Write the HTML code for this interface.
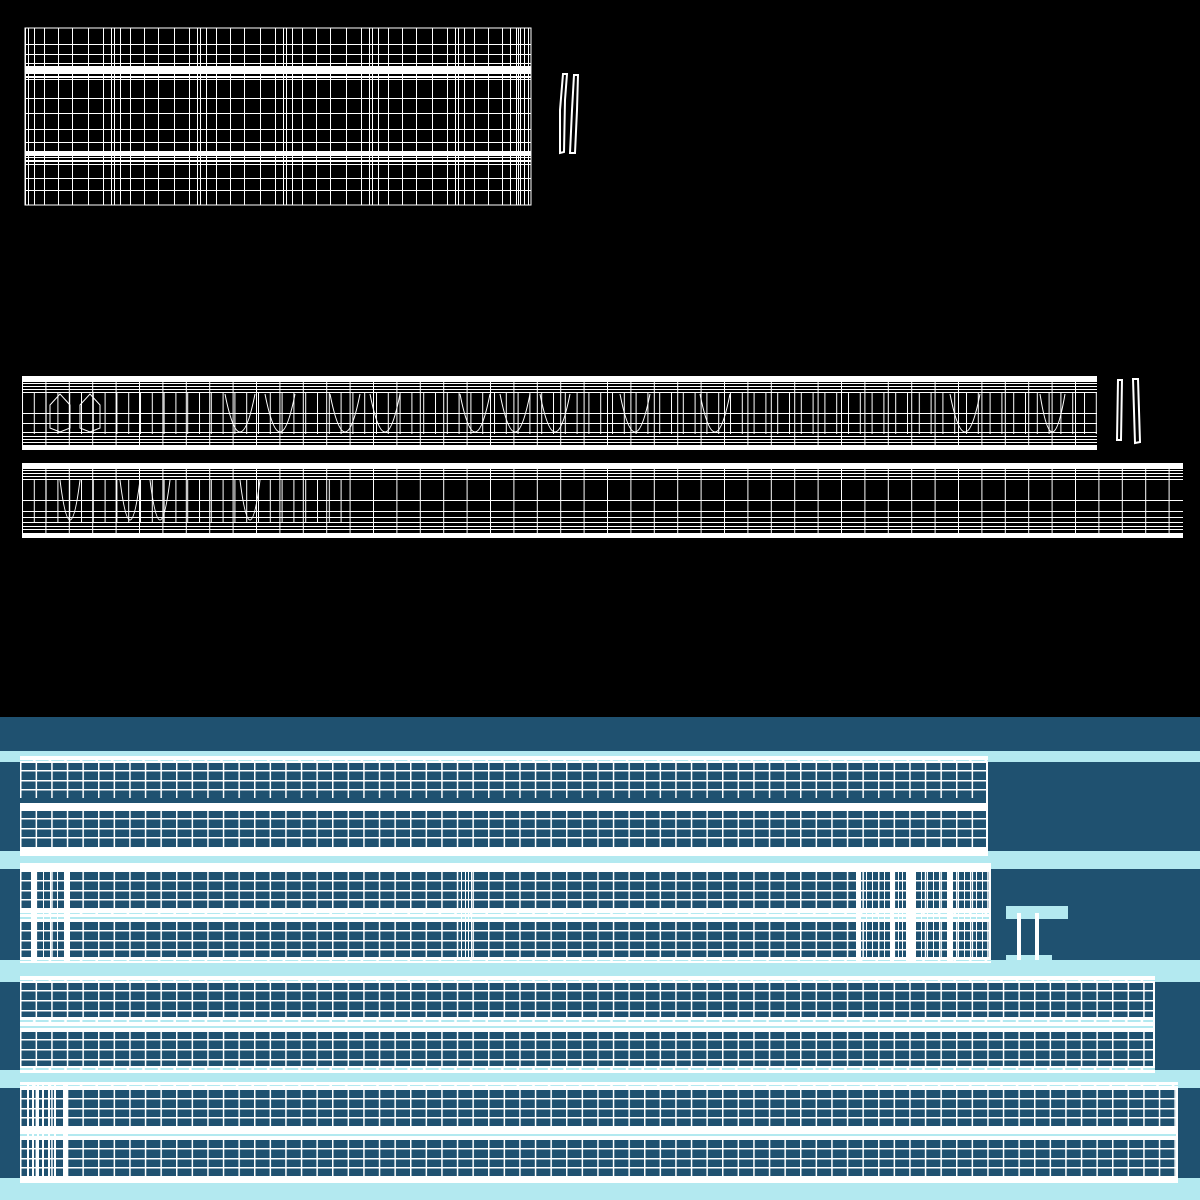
<!DOCTYPE html>
<html><head><meta charset="utf-8"><style>html,body{margin:0;padding:0;background:#000}svg{display:block}</style></head><body>
<svg width="1200" height="1200" viewBox="0 0 1200 1200" xmlns="http://www.w3.org/2000/svg">
<defs>
<pattern id="g15" x="20" y="0" width="15.6" height="10" patternUnits="userSpaceOnUse">
<rect x="0" y="0" width="1.5" height="10" fill="#fff"/>
</pattern>
<pattern id="v12" x="22" y="0" width="11.8" height="10" patternUnits="userSpaceOnUse">
<rect x="0" y="0" width="1" height="10" fill="#fff"/>
</pattern>
<pattern id="v23" x="22" y="0" width="23.4" height="10" patternUnits="userSpaceOnUse">
<rect x="0" y="0" width="1" height="10" fill="#fff"/>
</pattern>
<pattern id="vt" x="25" y="0" width="86" height="10" patternUnits="userSpaceOnUse">
<g fill="#fff">
<rect x="0" width="1" height="10"/><rect x="3" width="1" height="10"/><rect x="9" width="1" height="10"/><rect x="19" width="1" height="10"/><rect x="33" width="1" height="10"/><rect x="47" width="1" height="10"/><rect x="63" width="1" height="10"/><rect x="78" width="1" height="10"/>
</g></pattern>
<pattern id="dash" x="20" y="0" width="15.6" height="4" patternUnits="userSpaceOnUse">
<rect x="0" y="0" width="13" height="2" fill="#b3e9f0"/>
</pattern>
</defs>
<rect width="1200" height="1200" fill="#000"/>

<g>
<rect x="25" y="28" width="506" height="177" fill="url(#vt)"/>
<rect x="25" y="28" width="506" height="177" fill="none" stroke="#fff" stroke-width="1"/>
<g fill="#fff">
<rect x="25" y="44" width="506" height="1"/><rect x="25" y="54" width="506" height="1"/><rect x="25" y="63" width="506" height="1"/>
<rect x="25" y="66" width="506" height="8"/><rect x="25" y="76" width="506" height="2"/><rect x="25" y="79" width="506" height="1"/>
<rect x="25" y="98" width="506" height="1"/><rect x="25" y="113" width="506" height="1"/><rect x="25" y="129" width="506" height="1"/><rect x="25" y="142" width="506" height="1"/>
<rect x="25" y="151" width="506" height="5"/><rect x="25" y="157" width="506" height="1"/><rect x="25" y="160" width="506" height="2"/><rect x="25" y="164" width="506" height="1"/>
<rect x="25" y="178" width="506" height="1"/><rect x="25" y="190" width="506" height="1"/>
<rect x="510" y="28" width="1" height="177"/><rect x="516" y="28" width="1" height="177"/><rect x="520" y="28" width="1" height="177"/><rect x="524" y="28" width="1" height="177"/><rect x="528" y="28" width="1" height="177"/>
</g>
<path d="M563 74 L567 74 L565 100 L564 152 L560 153 L560 110 Z" fill="none" stroke="#fff" stroke-width="2"/>
<path d="M574 75 L578 75 L577 110 L575 153 L570 153 L572 110 Z" fill="none" stroke="#fff" stroke-width="2"/>
</g>

<g>
<rect x="22" y="376" width="1075" height="74" fill="#fff"/>
<rect x="22" y="382" width="1075" height="63" fill="#000"/>
<rect x="22" y="382" width="1075" height="63" fill="url(#v23)"/>
<rect x="22" y="392" width="1075" height="42" fill="url(#v12)"/>
<g fill="#fff">
<rect x="22" y="383" width="1075" height="1"/><rect x="22" y="386" width="1075" height="1"/><rect x="22" y="389" width="1075" height="1"/><rect x="22" y="392" width="1075" height="1"/>
<rect x="22" y="413" width="1075" height="1"/><rect x="22" y="423" width="1075" height="1"/><rect x="22" y="432" width="1075" height="1"/>
<rect x="22" y="436" width="1075" height="1"/><rect x="22" y="439" width="1075" height="1"/><rect x="22" y="442" width="1075" height="1"/>
</g>
<g fill="none" stroke="#fff" stroke-width="1">
<path d="M50 405 L60 394 L70 405 L70 428 L60 432 L50 428 Z"/><path d="M80 405 L90 394 L100 405 L100 428 L90 432 L80 428 Z"/>
<path d="M225 394 Q240 470 255 394"/><path d="M265 394 Q280 470 295 394"/><path d="M330 394 Q345 470 360 394"/><path d="M370 394 Q385 470 400 394"/>
<path d="M460 394 Q475 470 490 394"/><path d="M500 394 Q515 470 530 394"/><path d="M540 394 Q555 470 570 394"/><path d="M620 394 Q635 470 650 394"/>
<path d="M700 394 Q715 470 730 394"/><path d="M950 394 Q965 470 980 394"/><path d="M1040 394 Q1052 470 1065 394"/>
</g>
<path d="M1118 380 L1122 380 L1121 440 L1117 440 Z" fill="none" stroke="#fff" stroke-width="2"/>
<path d="M1133 379 L1138 379 L1140 442 L1135 443 Z" fill="none" stroke="#fff" stroke-width="2"/>
</g>

<g>
<rect x="22" y="463" width="1161" height="75" fill="#fff"/>
<rect x="22" y="469" width="1161" height="64" fill="#000"/>
<rect x="22" y="469" width="1161" height="64" fill="url(#v23)"/>
<rect x="22" y="479" width="330" height="44" fill="url(#v12)"/>
<g fill="#fff">
<rect x="22" y="470" width="1161" height="1"/><rect x="22" y="473" width="1161" height="1"/><rect x="22" y="476" width="1161" height="1"/><rect x="22" y="479" width="1161" height="1"/>
<rect x="22" y="500" width="1161" height="1"/><rect x="22" y="511" width="1161" height="1"/><rect x="22" y="517" width="1161" height="1"/><rect x="22" y="522" width="1161" height="1"/>
<rect x="22" y="526" width="1161" height="1"/><rect x="22" y="529" width="1161" height="1"/>
</g>
<g fill="none" stroke="#fff" stroke-width="1">
<path d="M60 480 Q70 560 80 480"/><path d="M120 480 Q130 560 140 480"/><path d="M150 480 Q160 560 170 480"/><path d="M240 480 Q250 560 260 480"/>
</g>
</g>

<rect x="0" y="717" width="1200" height="483" fill="#1f5170"/>
<g fill="#b3e9f0">
<rect x="0" y="751" width="1200" height="11"/>
<rect x="0" y="851" width="1200" height="18"/>
<rect x="0" y="960" width="1200" height="22"/>
<rect x="0" y="1070" width="1200" height="18"/>
<rect x="0" y="1178" width="1200" height="22"/>
<rect x="1006" y="906" width="62" height="13"/>
<rect x="1006" y="955" width="46" height="6"/>
</g>
<g fill="#fff"><rect x="1017" y="913" width="4" height="47"/><rect x="1035" y="913" width="4" height="47"/></g>

<g>
<rect x="20" y="756" width="968" height="100" fill="#fff"/>
<rect x="20" y="759" width="968" height="2" fill="url(#dash)"/>
<rect x="20" y="763" width="968" height="35" fill="#1f5170"/>
<rect x="20" y="763" width="968" height="35" fill="url(#g15)"/>
<rect x="20" y="798" width="968" height="5" fill="#1f5170"/>
<rect x="20" y="806" width="968" height="2" fill="url(#dash)"/>
<rect x="20" y="811" width="968" height="36" fill="#1f5170"/>
<rect x="20" y="811" width="968" height="36" fill="url(#g15)"/>
<rect x="20" y="850" width="968" height="2" fill="url(#dash)"/>
<g fill="#fff"><rect x="20" y="770" width="968" height="1.5"/><rect x="20" y="780" width="968" height="1.5"/><rect x="20" y="789" width="968" height="1.5"/><rect x="20" y="818" width="968" height="1.5"/><rect x="20" y="828" width="968" height="1.5"/><rect x="20" y="837" width="968" height="1.5"/><rect x="986" y="763" width="2" height="84"/></g>

<rect x="20" y="863" width="971" height="100" fill="#fff"/>
<rect x="20" y="866" width="971" height="2" fill="url(#dash)"/>
<rect x="20" y="872" width="971" height="36" fill="#1f5170"/>
<rect x="20" y="872" width="971" height="36" fill="url(#g15)"/>
<rect x="20" y="913" width="971" height="2" fill="url(#dash)"/>
<rect x="20" y="917" width="971" height="2" fill="#b3e9f0"/>
<rect x="20" y="922" width="971" height="35" fill="#1f5170"/>
<rect x="20" y="922" width="971" height="35" fill="url(#g15)"/>
<rect x="20" y="959" width="971" height="2" fill="url(#dash)"/>
<g fill="#fff">
<rect x="20" y="880" width="971" height="1.5"/><rect x="20" y="890" width="971" height="1.5"/><rect x="20" y="899" width="971" height="1.5"/>
<rect x="20" y="930" width="971" height="1.5"/><rect x="20" y="940" width="971" height="1.5"/><rect x="20" y="949" width="971" height="1.5"/>
<rect x="31" y="863" width="6" height="100"/><rect x="64" y="863" width="6" height="100"/>
<rect x="856" y="863" width="5" height="100"/><rect x="890" y="863" width="4" height="100"/><rect x="906" y="863" width="10" height="100"/><rect x="947" y="863" width="6" height="100"/>
<rect x="43" y="872" width="1" height="85"/><rect x="50" y="872" width="1" height="85"/><rect x="57" y="872" width="1" height="85"/>
<rect x="461" y="872" width="1" height="85"/><rect x="465" y="872" width="1" height="85"/><rect x="468" y="872" width="1" height="85"/><rect x="471" y="872" width="1" height="85"/>
<rect x="866" y="872" width="1" height="85"/><rect x="872" y="872" width="1" height="85"/><rect x="878" y="872" width="1" height="85"/><rect x="884" y="872" width="1" height="85"/>
<rect x="898" y="872" width="1" height="85"/><rect x="902" y="872" width="1" height="85"/><rect x="921" y="872" width="1" height="85"/><rect x="927" y="872" width="1" height="85"/><rect x="933" y="872" width="1" height="85"/><rect x="939" y="872" width="1" height="85"/>
<rect x="958" y="872" width="1" height="85"/><rect x="964" y="872" width="1" height="85"/><rect x="970" y="872" width="1" height="85"/><rect x="976" y="872" width="1" height="85"/><rect x="982" y="872" width="1" height="85"/><rect x="989" y="872" width="2" height="85"/>
</g>

<rect x="20" y="976" width="1135" height="97" fill="#fff"/>
<rect x="20" y="979" width="1135" height="2" fill="url(#dash)"/>
<rect x="20" y="983" width="1135" height="34" fill="#1f5170"/>
<rect x="20" y="983" width="1135" height="34" fill="url(#g15)"/>
<rect x="20" y="1020" width="1135" height="2" fill="url(#dash)"/>
<rect x="20" y="1026" width="1135" height="2" fill="#b3e9f0"/>
<rect x="20" y="1032" width="1135" height="34" fill="#1f5170"/>
<rect x="20" y="1032" width="1135" height="34" fill="url(#g15)"/>
<rect x="20" y="1068" width="1135" height="2" fill="url(#dash)"/>
<g fill="#fff">
<rect x="20" y="990" width="1135" height="1.5"/><rect x="20" y="1000" width="1135" height="1.5"/><rect x="20" y="1010" width="1135" height="1.5"/>
<rect x="20" y="1039" width="1135" height="1.5"/><rect x="20" y="1049" width="1135" height="1.5"/><rect x="20" y="1059" width="1135" height="1.5"/>
<rect x="1153" y="983" width="2" height="83"/>
</g>

<rect x="20" y="1082" width="1158" height="101" fill="#fff"/>
<rect x="20" y="1085" width="1158" height="2" fill="url(#dash)"/>
<rect x="20" y="1090" width="1158" height="36" fill="#1f5170"/>
<rect x="20" y="1090" width="1158" height="36" fill="url(#g15)"/>
<rect x="20" y="1130" width="1158" height="2" fill="url(#dash)"/>
<rect x="20" y="1134" width="1158" height="2" fill="#b3e9f0"/>
<rect x="20" y="1140" width="1158" height="36" fill="#1f5170"/>
<rect x="20" y="1140" width="1158" height="36" fill="url(#g15)"/>
<rect x="20" y="1178" width="1158" height="2" fill="url(#dash)"/>
<g fill="#fff">
<rect x="20" y="1098" width="1158" height="1.5"/><rect x="20" y="1108" width="1158" height="1.5"/><rect x="20" y="1117" width="1158" height="1.5"/>
<rect x="20" y="1148" width="1158" height="1.5"/><rect x="20" y="1158" width="1158" height="1.5"/><rect x="20" y="1167" width="1158" height="1.5"/>
<rect x="1176" y="1090" width="2" height="86"/>
<rect x="27" y="1082" width="2" height="101"/><rect x="32" y="1082" width="2" height="101"/><rect x="37" y="1082" width="2" height="101"/><rect x="42" y="1082" width="2" height="101"/><rect x="48" y="1082" width="2" height="101"/><rect x="54" y="1082" width="2" height="101"/><rect x="63" y="1082" width="5" height="101"/>
</g>
</g>
</svg>
</body></html>
